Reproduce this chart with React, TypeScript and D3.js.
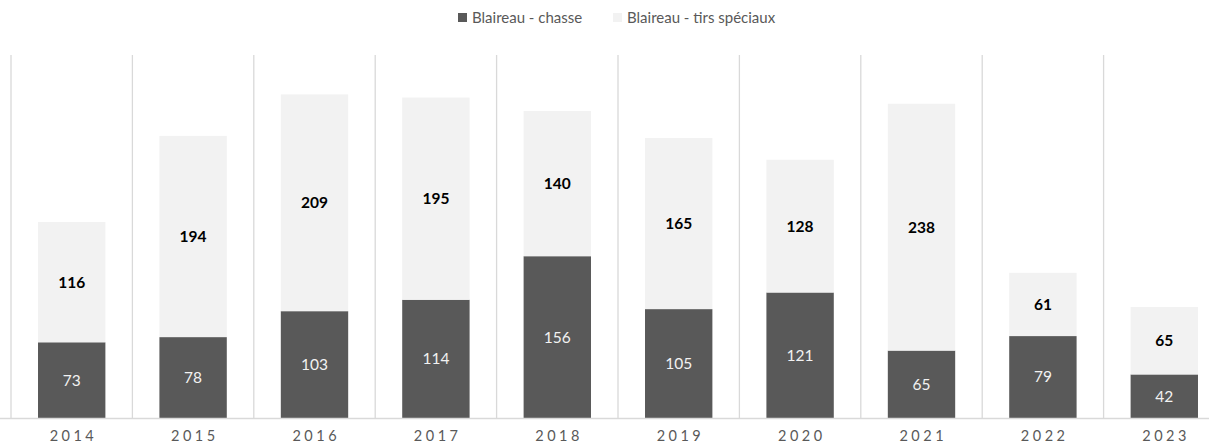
import React from "react";
import * as d3 from "d3";

const years = ["2014", "2015", "2016", "2017", "2018", "2019", "2020", "2021", "2022", "2023"];
const chasse = [73, 78, 103, 114, 156, 105, 121, 65, 79, 42];
const tirs = [116, 194, 209, 195, 140, 165, 128, 238, 61, 65];
const seriesNames = ["Blaireau - chasse", "Blaireau - tirs spéciaux"];
const seriesColors = ["#595959", "#f2f2f2"];

const W = 1209;
const H = 444;
const FONT = "Lato, 'Open Sans', sans-serif";

export default function App() {
  const x = d3.scaleBand<string>().domain(years).range([11, 11 + 121.4 * years.length]).paddingInner(0.445).paddingOuter(0.2225);
  const y = d3.scaleLinear().domain([0, 350]).range([418, 55]);
  const step = x.step();
  const rows = years.map((yr, i) => ({ year: yr, chasse: chasse[i], tirs: tirs[i] }));
  const stack = d3.stack<any>().keys(["chasse", "tirs"])(rows);
  const sepXs = d3.range(years.length + 1).map((i) => 11 + i * step);

  return (
    <svg width={W} height={H} style={{ position: "absolute", left: 0, top: 0, background: "#fff" }} fontFamily={FONT}>
      {sepXs.map((sx, i) => (
        <line key={i} x1={sx} x2={sx} y1={y(350)} y2={y(0)} stroke="#d9d9d9" strokeWidth={1.3} />
      ))}
      {stack.map((layer, li) => (
        <g key={li}>
          {layer.map((d, i) => {
            const bx = x(years[i])!;
            const y0 = y(d[1]);
            const y1 = y(d[0]);
            const val = d[1] - d[0];
            return (
              <g key={i}>
                <rect x={bx} y={y0} width={x.bandwidth()} height={y1 - y0} fill={seriesColors[li]} />
                <text
                  x={bx + x.bandwidth() / 2}
                  y={(y0 + y1) / 2}
                  dy="0.35em"
                  textAnchor="middle"
                  fontSize={15.5}
                  fontWeight={li === 1 ? 700 : 400}
                  fill={li === 1 ? "#000" : "#f2f2f2"}
                >
                  {val}
                </text>
              </g>
            );
          })}
        </g>
      ))}
      <line x1={0} x2={W} y1={y(0) + 0.5} y2={y(0) + 0.5} stroke="#d9d9d9" strokeWidth={1.3} />
      {years.map((yr) => (
        <text key={yr} x={x(yr)! + x.bandwidth() / 2 + 1.75} y={441} textAnchor="middle" fontSize={14.5} letterSpacing={3.5} fill="#595959">
          {yr}
        </text>
      ))}
      <g fontSize={15} fill="#595959">
        <rect x={458} y={13} width={9} height={9} fill={seriesColors[0]} />
        <text x={472} y={23}>{seriesNames[0]}</text>
        <rect x={613} y={13} width={9} height={9} fill={seriesColors[1]} />
        <text x={627} y={23}>{seriesNames[1]}</text>
      </g>
    </svg>
  );
}
